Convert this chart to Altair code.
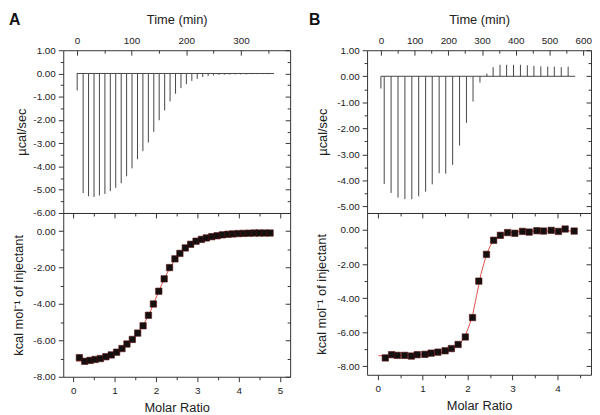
import altair as alt
import pandas as pd

# ---------------- Panel A : raw thermogram ----------------
a_inj_time = [0.5, 11.4, 21.3, 31.3, 41.2, 51.2, 61.1, 71.0, 81.0, 90.9, 100.8, 110.8,
              120.7, 130.7, 140.6, 150.5, 160.5, 170.4, 180.4, 190.3, 200.2, 210.2,
              220.1, 230.1, 240.0, 249.9, 259.9, 269.8, 279.8, 289.7, 299.6, 309.6,
              319.5, 329.5, 339.4, 349.3, 359.3]
a_inj_peak = [-0.73, -5.14, -5.28, -5.31, -5.25, -5.18, -5.06, -4.92, -4.72, -4.42, -4.08,
              -3.69, -3.34, -2.97, -2.51, -2.01, -1.59, -1.20, -0.87, -0.63, -0.46, -0.32,
              -0.23, -0.15, -0.11, -0.08, -0.06, -0.05, -0.05, -0.04, -0.04, -0.04, -0.03,
              -0.03, -0.03, -0.03, -0.03]
a_run = [0.0, 360.0]

# ---------------- Panel A : isotherm ----------------
a_ratio = [0.15, 0.28, 0.41, 0.53, 0.66, 0.79, 0.92, 1.05, 1.18, 1.30, 1.43, 1.56, 1.69,
           1.82, 1.94, 2.07, 2.20, 2.33, 2.46, 2.58, 2.71, 2.84, 2.97, 3.10, 3.22, 3.35,
           3.48, 3.61, 3.74, 3.86, 3.99, 4.12, 4.25, 4.38, 4.50, 4.63, 4.76]
a_heat = [-6.95, -7.15, -7.10, -7.05, -7.00, -6.90, -6.80, -6.65, -6.45, -6.20, -5.95,
          -5.60, -5.20, -4.62, -4.00, -3.30, -2.62, -2.00, -1.52, -1.22, -0.92, -0.72,
          -0.55, -0.45, -0.37, -0.30, -0.25, -0.20, -0.17, -0.15, -0.13, -0.12, -0.11,
          -0.10, -0.10, -0.10, -0.10]
a_fit_ratio = [0.08, 0.3, 0.5, 0.7, 0.9, 1.1, 1.3, 1.5, 1.7, 1.85, 2.0, 2.1, 2.2, 2.35,
               2.5, 2.7, 2.9, 3.1, 3.4, 3.8, 4.2, 4.76]
a_fit_heat = [-7.14, -7.12, -7.06, -6.98, -6.84, -6.62, -6.25, -5.78, -5.14, -4.50, -3.68,
              -3.15, -2.62, -1.95, -1.45, -0.95, -0.63, -0.43, -0.27, -0.16, -0.12, -0.10]

# ---------------- Panel B : raw thermogram ----------------
b_inj_time = [0.0, 9.8, 30.2, 50.7, 71.2, 91.7, 112.0, 132.6, 152.2, 172.7, 192.2, 212.7,
              233.2, 253.7, 273.2, 293.7, 314.2, 332.7, 353.2, 372.7, 393.2, 413.7, 434.2,
              453.7, 474.2, 494.6, 514.2, 534.7, 555.2]
b_inj_peak = [-0.47, -4.14, -4.48, -4.66, -4.72, -4.72, -4.61, -4.43, -4.15, -3.72, -3.74,
              -3.40, -2.66, -1.79, -0.97, -0.24, 0.10, 0.35, 0.44, 0.44, 0.44, 0.44, 0.42,
              0.40, 0.38, 0.37, 0.37, 0.35, 0.37]
b_run = [0.0, 576.0]

# ---------------- Panel B : isotherm ----------------
b_ratio = [0.17, 0.31, 0.44, 0.60, 0.75, 0.88, 1.05, 1.19, 1.34, 1.50, 1.64, 1.79, 1.95,
           2.11, 2.25, 2.42, 2.58, 2.73, 2.89, 3.05, 3.22, 3.37, 3.54, 3.69, 3.86, 4.02,
           4.17, 4.37]
b_heat = [-7.51, -7.32, -7.36, -7.36, -7.40, -7.32, -7.30, -7.23, -7.17, -7.09, -6.96,
          -6.72, -6.28, -5.14, -3.00, -1.43, -0.60, -0.31, -0.15, -0.19, -0.08, -0.12,
          -0.04, -0.06, -0.02, -0.08, 0.06, -0.06]
b_fit_ratio = [0.02, 0.5, 1.0, 1.3, 1.5, 1.7, 1.85, 1.95, 2.05, 2.12, 2.2, 2.3, 2.42, 2.5,
               2.58, 2.7, 2.85, 3.1, 3.6, 4.4]
b_fit_heat = [-7.38, -7.36, -7.31, -7.24, -7.14, -6.94, -6.60, -6.22, -5.50, -4.90, -3.85,
              -2.55, -1.45, -0.95, -0.62, -0.35, -0.20, -0.10, -0.06, -0.05]

FONT = "Liberation Sans"
TXT = "#222222"
FMT2 = "replace(format(datum.value, '.2f'), '\u2212', '-')"
FMTD = "format(datum.value, 'd')"


def sc(dom):
    return alt.Scale(domain=dom, nice=False, zero=False)


def inward(orient, values, size):
    return alt.Axis(orient=orient, values=values, labels=False, title=None,
                    tickSize=size, offset=-size, minExtent=0)


def outward_minor(orient, values, size=3):
    return alt.Axis(orient=orient, values=values, labels=False, title=None,
                    tickSize=size, minExtent=0)


def letter_layer(letter, dx):
    return alt.Chart(pd.DataFrame({"panel": [letter]})).mark_text(
        font=FONT, fontSize=16, fontWeight="bold", align="left", baseline="top", color="#111"
    ).encode(text="panel:N", x=alt.value(dx), y=alt.value(-39))


def thermogram(times, peaks, run, tdom, ydom, tmaj, tmin, ymaj, ymin, letter, dx, ytpad, w, h):
    df = pd.DataFrame({"time": times, "peak": peaks})
    run_df = pd.DataFrame({"start": [run[0]], "end": [run[1]], "level": [0.0]})

    def X(ax):
        return alt.X("time:Q", scale=sc(tdom), axis=ax)

    def Y(ax):
        return alt.Y("peak:Q", scale=sc(ydom), axis=ax)

    spikes = alt.Chart(df).mark_rule(color="#444", strokeWidth=1).encode(
        x=X(alt.Axis(orient="top", values=tmaj, labelExpr=FMTD, title="Time (min)",
                     tickSize=5, offset=-5, labelPadding=5, titlePadding=9)),
        y=Y(alt.Axis(orient="left", values=ymaj, labelExpr=FMT2, title="µcal/sec",
                     tickSize=5, labelPadding=3, titlePadding=ytpad)),
        y2=alt.datum(0),
    )
    base = alt.Chart(run_df).mark_rule(color="#444", strokeWidth=1).encode(
        x=alt.X("start:Q", scale=sc(tdom), axis=None),
        x2="end:Q",
        y=alt.Y("level:Q", scale=sc(ydom), axis=None),
    )
    ghost = alt.Chart(df).mark_point(opacity=0)
    minor = ghost.encode(x=X(inward("top", tmin, 3)), y=Y(outward_minor("left", ymin)))
    rmaj = ghost.encode(x=X(None), y=Y(inward("right", ymaj, 5)))
    rmin = ghost.encode(x=X(None), y=Y(inward("right", ymin, 3)))
    return alt.layer(spikes, base, minor, rmaj, rmin, letter_layer(letter, dx)).resolve_scale(
        x="independent", y="independent").properties(width=w, height=h)


def isotherm(ratio, heat, fr, fh, xdom, ydom, xmaj, xmin, ymaj, ymin, ytpad, w, h):
    df = pd.DataFrame({"ratio": ratio, "heat": heat})
    fit = pd.DataFrame({"ratio": fr, "heat": fh})

    def X(ax):
        return alt.X("ratio:Q", scale=sc(xdom), axis=ax)

    def Y(ax):
        return alt.Y("heat:Q", scale=sc(ydom), axis=ax)

    line = alt.Chart(fit).mark_line(color="#e0504a", strokeWidth=1).encode(x=X(None), y=Y(None))
    pts = alt.Chart(df).mark_square(size=42, fill="#141010", stroke="#5a1010",
                                    strokeWidth=0.6, opacity=1).encode(
        x=X(alt.Axis(orient="bottom", values=xmaj, labelExpr=FMTD, title="Molar Ratio",
                     tickSize=5, labelPadding=4, titlePadding=6)),
        y=Y(alt.Axis(orient="left", values=ymaj, labelExpr=FMT2,
                     title="kcal mol\u207b\u00b9 of injectant",
                     tickSize=5, labelPadding=3, titlePadding=ytpad)),
    )
    ghost = alt.Chart(df).mark_point(opacity=0)
    minor = ghost.encode(x=X(outward_minor("bottom", xmin)), y=Y(outward_minor("left", ymin)))
    tmaj = ghost.encode(x=X(inward("top", xmaj, 5)), y=Y(inward("right", ymaj, 5)))
    tmin = ghost.encode(x=X(inward("top", xmin, 3)), y=Y(inward("right", ymin, 3)))
    return alt.layer(line, pts, minor, tmaj, tmin).resolve_scale(
        x="independent", y="independent").properties(width=w, height=h)


A_top = thermogram(a_inj_time, a_inj_peak, a_run, [-25, 390], [-6, 1],
                   [0, 100, 200, 300], [50, 150, 250, 350],
                   [1, 0, -1, -2, -3, -4, -5, -6],
                   [0.5, -0.5, -1.5, -2.5, -3.5, -4.5, -5.5],
                   "A", -55, 4, 230, 165)
B_top = thermogram(b_inj_time, b_inj_peak, b_run, [-41, 623], [-5.25, 1],
                   [0, 100, 200, 300, 400, 500, 600], [50, 150, 250, 350, 450, 550],
                   [1, 0, -1, -2, -3, -4, -5],
                   [0.5, -0.5, -1.5, -2.5, -3.5, -4.5],
                   "B", -59, 7, 227, 165)
A_bot = isotherm(a_ratio, a_heat, a_fit_ratio, a_fit_heat, [-0.24, 5.245], [-8, 1],
                 [0, 1, 2, 3, 4, 5], [0.5, 1.5, 2.5, 3.5, 4.5],
                 [0, -2, -4, -6, -8], [-1, -3, -5, -7], 7, 230, 166)
B_bot = isotherm(b_ratio, b_heat, b_fit_ratio, b_fit_heat, [-0.235, 4.745], [-8.5, 1],
                 [0, 1, 2, 3, 4], [0.5, 1.5, 2.5, 3.5, 4.5],
                 [0, -2, -4, -6, -8], [-1, -3, -5, -7], 8, 227, 164)

chart = alt.concat(
    A_top, B_top, A_bot, B_bot, columns=2,
    spacing=alt.RowColnumber(row=0, column=78), bounds="flush", align="each",
).properties(padding=0).configure_view(
    stroke="#333", strokeWidth=1
).configure_axis(
    domain=False, grid=False, labelFont=FONT, labelFontSize=10, labelColor=TXT,
    titleFont=FONT, titleFontSize=13, titleFontWeight="normal", titleColor=TXT,
    tickColor="#333", tickWidth=1,
)

chart.save("out.html", embed_options={"renderer": "svg", "actions": False})
